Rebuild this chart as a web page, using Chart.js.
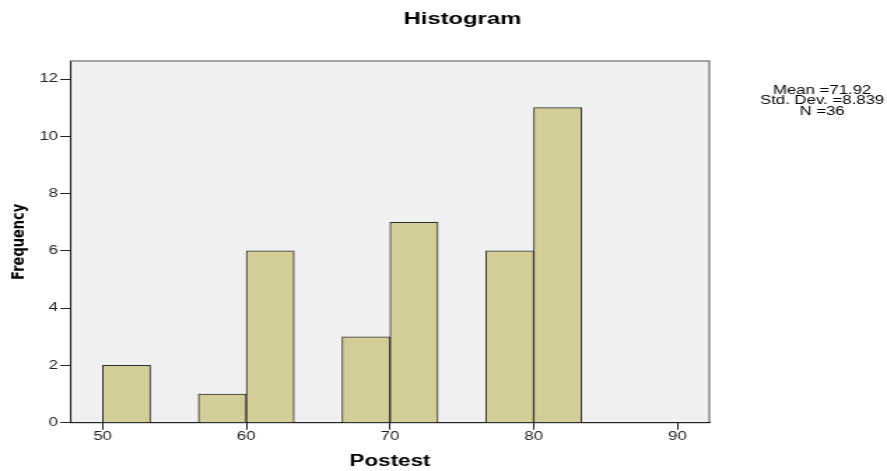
<!DOCTYPE html>
<html><head><meta charset="utf-8">
<script src="https://cdn.jsdelivr.net/npm/chart.js@4"></script>
<style>
html,body{margin:0;padding:0;background:#fff;overflow:hidden}
</style>
</head><body>
<canvas id="c" width="634" height="471" style="display:block;width:887px;height:471px"></canvas>
<script>
// Histogram bins (Postest) and their frequencies
const binStarts = [50, 53.333, 56.667, 60, 63.333, 66.667, 70, 73.333, 76.667, 80];
const binWidth = 3.333;
const frequencies = [2, 0, 1, 6, 0, 3, 7, 0, 6, 11];
const xTicks = [50, 60, 70, 80, 90];
const yTicks = [0, 2, 4, 6, 8, 10, 12];
const statsLines = ['Mean =71.92', 'Std. Dev. =8.839', 'N =36'];

const points = binStarts.map((s, i) => ({ x: s + binWidth / 2, y: frequencies[i] }));

const sans = '"Liberation Sans", Arial, sans-serif';

const spssPlugin = {
  id: 'spss',
  afterLayout(chart) {
    const t = chart.titleBlock;
    if (t) { t.left += 77; t.right += 77; }
  },
  beforeDraw(chart) {
    const { ctx, chartArea: a } = chart;
    ctx.save();
    ctx.fillStyle = '#f0f0f0';
    ctx.fillRect(a.left, a.top, a.width, a.height);
    ctx.strokeStyle = '#6e6e6e';
    ctx.lineWidth = 1.2;
    ctx.strokeRect(a.left, a.top, a.width, a.height);
    ctx.restore();
  },
  afterDraw(chart) {
    const { ctx, chartArea: a } = chart;
    ctx.save();
    ctx.font = '12px ' + sans;
    ctx.fillStyle = '#000';
    ctx.textAlign = 'center';
    ctx.textBaseline = 'alphabetic';
    statsLines.forEach((line, i) => {
      ctx.fillText(line, a.right + 80.6, a.top + 32.5 + i * 10.5);
    });
    ctx.restore();
  }
};

const nonEmpty = (c) => c.raw && c.raw.y > 0;

new Chart(document.getElementById('c'), {
  type: 'bar',
  data: {
    datasets: [{
      data: points,
      backgroundColor: (c) => (nonEmpty(c) ? '#d3ce97' : 'rgba(0,0,0,0)'),
      borderColor: '#2e2e2e',
      borderWidth: (c) => (nonEmpty(c) ? 1 : 0),
      barPercentage: 1,
      categoryPercentage: 1
    }]
  },
  options: {
    responsive: false,
    devicePixelRatio: 1,
    animation: false,
    layout: { padding: { top: 0, right: 127, bottom: 0, left: 0 } },
    plugins: {
      legend: { display: false },
      tooltip: { enabled: false },
      title: {
        display: true,
        text: 'Histogram',
        color: '#000',
        font: { family: sans, size: 17, weight: 'bold' },
        padding: { top: 9, bottom: 31.6 }
      }
    },
    scales: {
      x: {
        type: 'linear',
        min: 47.78,
        max: 92.22,
        offset: false,
        afterBuildTicks: (s) => { s.ticks = xTicks.map(v => ({ value: v })); },
        afterFit: (s) => { s.height = 48.3; },
        grid: { offset: false, drawOnChartArea: false, drawTicks: true, tickLength: 7, color: '#222', lineWidth: 1 },
        border: { display: true, color: '#222', width: 1 },
        ticks: { padding: 0, color: '#222', maxRotation: 0, font: { family: sans, size: 12 } },
        title: { display: true, text: 'Postest', color: '#000', font: { family: sans, size: 16, weight: 'bold' }, padding: { top: 0, bottom: 0 } }
      },
      y: {
        type: 'linear',
        min: 0,
        max: 12.63,
        afterBuildTicks: (s) => { s.ticks = yTicks.map(v => ({ value: v })); },
        afterFit: (s) => { s.width = 50.5; },
        grid: { drawOnChartArea: false, drawTicks: true, tickLength: 7.5, color: '#222', lineWidth: 1 },
        border: { display: true, color: '#222', width: 1 },
        ticks: { padding: 1.5, color: '#222', font: { family: sans, size: 12 } },
        title: { display: true, text: 'Frequency', color: '#000', font: { family: '"DejaVu Sans", sans-serif', size: 13, weight: 'bold' }, padding: { top: 5.6, bottom: 0 } }
      }
    }
  },
  plugins: [spssPlugin]
});
</script>
</body></html>
